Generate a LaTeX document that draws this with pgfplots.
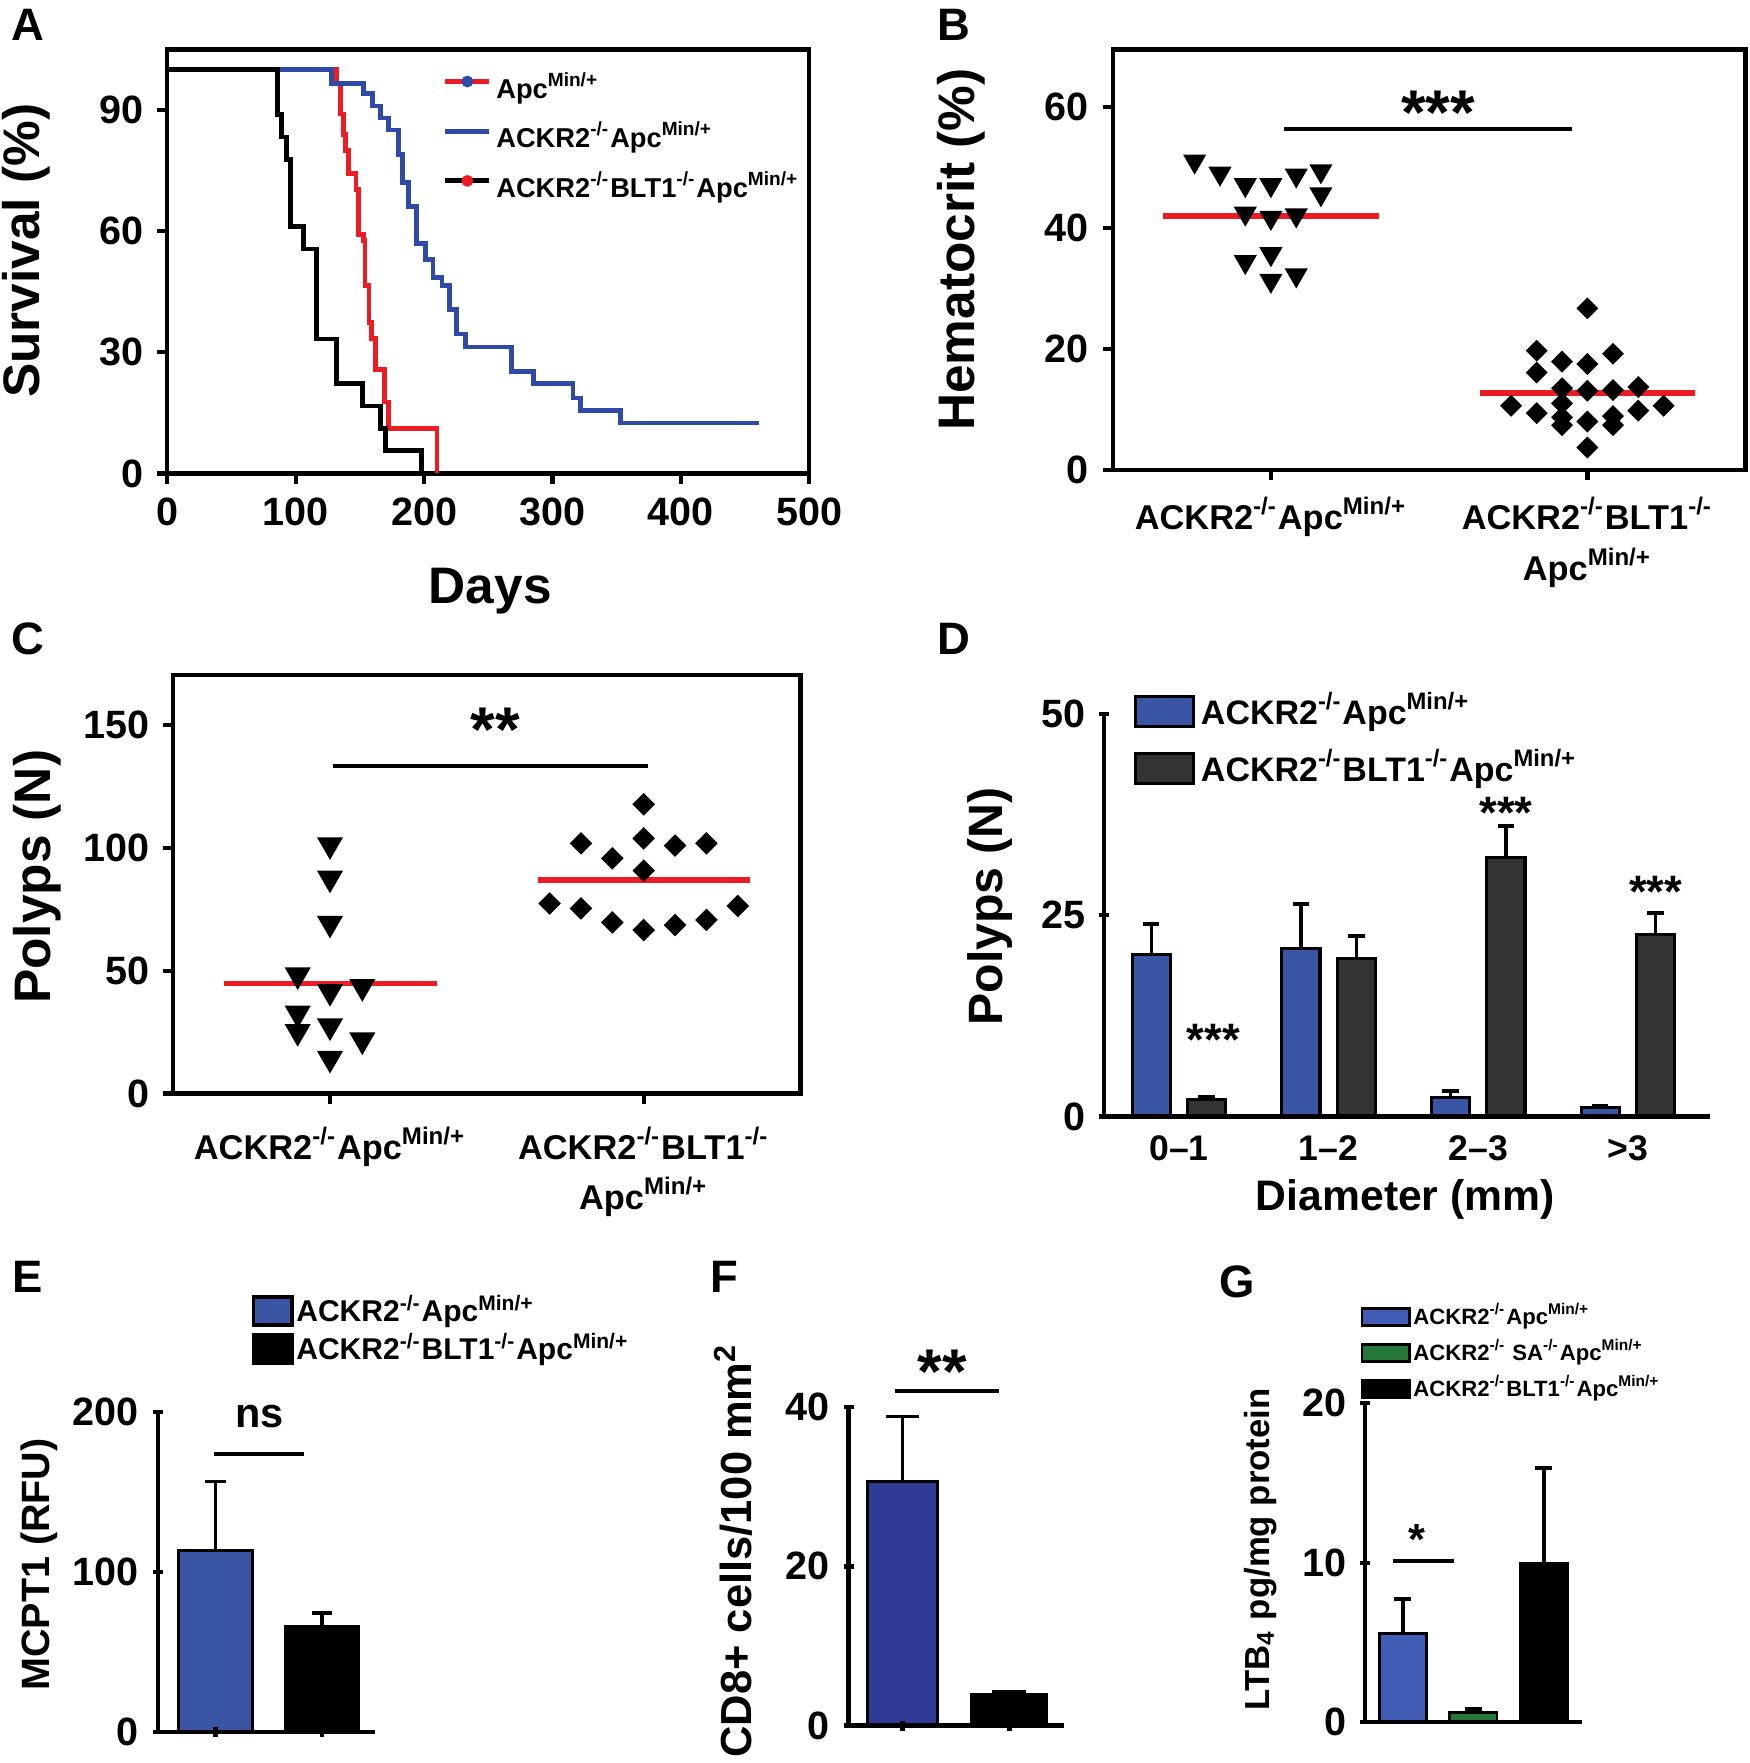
\documentclass[border=0pt]{standalone}
\usepackage{fontspec}
\setmainfont{Liberation Sans}
\usepackage{pgfplots}
\pgfplotsset{compat=1.18}

\definecolor{survred}{RGB}{237,28,36}
\definecolor{survblue}{RGB}{46,74,166}
\definecolor{meanred}{RGB}{236,28,36}
\definecolor{barblue}{RGB}{59,85,165}
\definecolor{bardark}{RGB}{51,51,51}
\definecolor{fblue}{RGB}{46,60,150}
\definecolor{gblue}{RGB}{64,92,180}
\definecolor{ggreen}{RGB}{38,120,58}

\newcommand{\ko}{\textsuperscript{-/-}}
\newcommand{\mn}{\textsuperscript{Min/+}}
\newcommand{\fs}[1]{\bfseries\fontsize{#1}{#1}\selectfont}

\pgfplotsset{
  gp/.style={
    scale only axis, anchor=south west, clip=false,
    axis line style={line width=1.1pt},
    every tick/.style={black, line width=1.1pt},
    tick align=outside, tick pos=left,
    major tick length=0.9mm,
    /pgf/number format/assume math mode=true,
    ticklabel style={font=\fs{10}},
    legend cell align=left,
  },
  gpopen/.style={gp, axis lines=left, axis on top,
    axis line style={-, line width=1.1pt},
    every outer x axis line/.append style={-},
    every outer y axis line/.append style={-}},
  errs/.style={error bars/.cd, y dir=plus, y explicit,
    error bar style={line width=0.9pt, black},
    error mark options={rotate=90, line width=0.9pt, black, mark size=#1}},
}

\begin{document}
\begin{tikzpicture}[font=\bfseries]
\useasboundingbox (0,0) rectangle (155.6mm,156.8mm);

% panel letters
\node[font=\fs{11.5}] at (2.5mm,154.6mm) {A};
\node[font=\fs{11.5}] at (84.8mm,154.6mm) {B};
\node[font=\fs{11.5}] at (2.5mm,100.0mm) {C};
\node[font=\fs{11.5}] at (84.8mm,100.0mm) {D};
\node[font=\fs{11.5}] at (2.5mm,43.2mm) {E};
\node[font=\fs{11.5}] at (64.4mm,43.2mm) {F};
\node[font=\fs{11.5}] at (110.0mm,42.8mm) {G};

% ---------- A: survival
\begin{axis}[gp, at={(14.88mm,114.69mm)}, width=57.1mm, height=37.72mm,
  xmin=0, xmax=500, ymin=0, ymax=105,
  xtick={0,100,...,500}, ytick={0,30,60,90},
  xlabel={Days}, ylabel={Survival (\%)},
  label style={font=\fs{13}},
  xlabel style={at={(axis description cs:0.503,-0.278)}, anchor=center},
  ylabel style={at={(axis description cs:-0.220,0.525)}, anchor=center},
  legend style={at={(axis description cs:0.428,0.958)}, anchor=north west,
    draw=none, fill=none, font=\fs{6.9}, inner sep=0pt, row sep=0.8mm,
    nodes={inner sep=0.4mm}},
]
\addplot[const plot, survred, line width=1.2pt,
  legend image code/.code={\draw[survred, line width=1.3pt] (0mm,0.6mm) -- (3.9mm,0.6mm);
    \fill[survblue] (1.95mm,0.6mm) circle (0.3mm);}]
  coordinates {(0,100) (132,96.5) (135,89) (137,84) (139,80) (141,74.3) (147,70.3)
  (149,59.2) (153,57.6) (154,46.5) (157,37.4) (159,33.4) (162,25.8) (169,17.7)
  (172,11.1) (210,0)};
\addlegendentry{Apc\mn}
\addplot[const plot, survblue, line width=1.2pt,
  legend image code/.code={\draw[survblue, line width=1.3pt] (0mm,0.6mm) -- (3.9mm,0.6mm);}]
  coordinates {(0,100) (128,96.6) (153,94) (160,91) (166,88) (172,85) (180,79)
  (183,72) (188,66) (194,57) (201,53) (207,48.5) (214,46.5) (220,40.5) (225,34.5)
  (232,31.3) (268,25.3) (285,22.2) (316,18.7) (322,15.6) (353,12.5) (461,12.5)};
\addlegendentry{ACKR2\ko{}Apc\mn}
\addplot[const plot, black, line width=1.2pt,
  legend image code/.code={\draw[black, line width=1.3pt] (0mm,0.6mm) -- (3.9mm,0.6mm);
    \fill[survred] (1.95mm,0.6mm) circle (0.3mm);}]
  coordinates {(0,100) (86,88.9) (89,83.3) (93,77.8) (96,61.1) (106,55.6) (116,33.3)
  (132,22.2) (152,16.7) (166,11.1) (170,5.6) (198,0)};
\addlegendentry{ACKR2\ko{}BLT1\ko{}Apc\mn}
\end{axis}

% ---------- B: hematocrit
\begin{axis}[gp, at={(98.96mm,115.0mm)}, width=56.29mm, height=37.41mm,
  xmin=0.5, xmax=2.5, ymin=0, ymax=69.5,
  xtick={1,2}, ytick={0,20,40,60},
  xticklabels={{ACKR2\ko{}Apc\mn},{ACKR2\ko{}BLT1\ko\\Apc\mn}},
  xticklabel style={font=\bfseries\fontsize{8.7}{12.8}\selectfont, align=center, anchor=north, yshift=-0.3mm},
  ylabel={Hematocrit (\%)},
  ylabel style={font=\fs{13}, at={(axis description cs:-0.239,0.524)}, anchor=center},
]
\addplot[only marks, mark=triangle*, mark size=1.05mm, mark options={rotate=180, fill=black, draw=black}]
  coordinates {(0.759,51.0) (0.839,49.0) (0.919,47.1) (1.0,47.1) (1.08,48.7)
  (1.158,49.4) (1.158,45.6) (0.919,42.4) (1.0,41.7) (1.08,42.1) (0.919,34.4)
  (1.0,35.7) (1.0,31.3) (1.08,32.2)};
\addplot[only marks, mark=square*, mark size=0.62mm, mark options={rotate=45, fill=black, draw=black}]
  coordinates {(2.0,26.7) (1.84,19.7) (2.081,19.2) (1.92,17.9) (2.0,17.5) (1.84,16.1)
  (1.92,13.5) (2.0,13.1) (2.081,13.2) (2.161,13.7) (1.759,10.6) (1.92,11.0)
  (2.241,10.6) (1.84,9.4) (2.161,9.8) (1.92,8.7) (1.92,7.4) (2.081,8.9) (2.0,8.0)
  (2.081,7.4) (2.0,3.7)};
\addplot[meanred, line width=1.4pt] coordinates {(0.66,42.0) (1.34,42.0)};
\addplot[meanred, line width=1.4pt] coordinates {(1.66,12.7) (2.34,12.7)};
\draw[line width=1pt] (axis cs:1.042,56.4) -- (axis cs:1.953,56.4);
\node[anchor=north, inner sep=0pt, font=\fs{16}] at (axis cs:1.528,62.8) {***};
\end{axis}

% ---------- C: polyps scatter
\begin{axis}[gp, at={(15.4mm,59.54mm)}, width=55.8mm, height=37.21mm,
  xmin=0.5, xmax=2.5, ymin=0, ymax=170.4,
  xtick={1,2}, ytick={0,50,100,150},
  xticklabels={{ACKR2\ko{}Apc\mn},{ACKR2\ko{}BLT1\ko\\Apc\mn}},
  xticklabel style={font=\bfseries\fontsize{8.7}{12.8}\selectfont, align=center, anchor=north, yshift=-0.8mm},
  ylabel={Polyps (N)},
  ylabel style={font=\fs{13}, at={(axis description cs:-0.217,0.518)}, anchor=center},
]
\addplot[only marks, mark=triangle*, mark size=1.2mm, mark options={rotate=180, fill=black, draw=black}]
  coordinates {(1,101.3) (1,87.7) (1,69.3) (0.897,48.3) (1,41.5) (1.103,43.5)
  (0.897,32.7) (0.897,25.2) (1,27.5) (1.103,21.8) (1,14.3)};
\addplot[only marks, mark=square*, mark size=0.64mm, mark options={rotate=45, fill=black, draw=black}]
  coordinates {(2,117.8) (2,103.9) (1.8,101.9) (2.1,101.0) (2.2,101.9) (1.9,95.8)
  (2,90.8) (1.7,77.4) (1.8,75.4) (2.3,76.4) (1.9,69.7) (2.2,70.7) (2,66.6) (2.1,68.6)};
\addplot[meanred, line width=1.4pt] coordinates {(0.662,44.8) (1.34,44.8)};
\addplot[meanred, line width=1.4pt] coordinates {(1.662,87.0) (2.34,87.0)};
\draw[line width=1pt] (axis cs:1.008,133.3) -- (axis cs:2.013,133.3);
\node[anchor=north, inner sep=0pt, font=\fs{16}] at (axis cs:1.527,157.5) {**};
\end{axis}

% ---------- D: polyps by diameter (bars placed at group centre -/+ 0.185)
\begin{axis}[gpopen, at={(98.2mm,57.5mm)}, width=53.9mm, height=35.8mm,
  xmin=0.5, xmax=4.55, ymin=0, ymax=50,
  ytick={0,25,50}, xtick={1,2,3,4}, xticklabels={0--1,1--2,2--3,>3},
  x tick style={draw=none}, xticklabel style={font=\fs{9}},
  xlabel={Diameter (mm)}, ylabel={Polyps (N)},
  xlabel style={font=\fs{10.8}, at={(axis description cs:0.497,-0.207)}, anchor=center},
  ylabel style={font=\fs{12.2}, at={(axis description cs:-0.189,0.522)}, anchor=center},
  legend style={at={(axis description cs:0.0475,1.07)}, anchor=north west,
    draw=none, fill=none, font=\fs{8.6}, inner sep=0pt, row sep=0.7mm,
    nodes={inner sep=0.5mm}},
]
\addplot[ybar, bar width=0.255, fill=barblue, draw=black, line width=0.8pt,
  legend image code/.code={\draw[fill=barblue, draw=black, line width=0.8pt] (0mm,-1.35mm) rectangle (5.2mm,1.35mm);},
  errs=0.73mm]
  coordinates {(0.815,20.1) +- (0,3.8) (1.815,20.9) +- (0,5.5) (2.815,2.4) +- (0,0.8) (3.815,1.07) +- (0,0.3)};
\addlegendentry{ACKR2\ko{}Apc\mn}
\addplot[ybar, bar width=0.255, fill=bardark, draw=black, line width=0.8pt,
  legend image code/.code={\draw[fill=bardark, draw=black, line width=0.8pt] (0mm,-1.35mm) rectangle (5.2mm,1.35mm);},
  errs=0.73mm]
  coordinates {(1.185,2.1) +- (0,0.4) (2.185,19.6) +- (0,2.8) (3.185,32.2) +- (0,3.9) (4.185,22.6) +- (0,2.7)};
\addlegendentry{ACKR2\ko{}BLT1\ko{}Apc\mn}
\node[anchor=north, inner sep=0pt, font=\fs{11.5}] at (axis cs:1.23,11.6) {***};
\node[anchor=north, inner sep=0pt, font=\fs{11.5}] at (axis cs:3.185,39.8) {***};
\node[anchor=north, inner sep=0pt, font=\fs{11.5}] at (axis cs:4.185,30.0) {***};
\end{axis}

% ---------- E: MCPT1
\begin{axis}[gpopen, at={(14.04mm,2.74mm)}, width=19.29mm, height=28.46mm,
  xmin=0.458, xmax=2.494, ymin=0, ymax=200,
  ytick={0,100,200}, xtick={1,2}, xticklabels={},
  ylabel={MCPT1 (RFU)},
  ylabel style={font=\fs{10}, at={(axis description cs:-0.548,0.524)}, anchor=center},
  legend style={at={(axis description cs:0.431,1.378)}, anchor=north west,
    draw=none, fill=none, font=\fs{7.6}, inner sep=0pt, row sep=0pt,
    nodes={inner sep=0.25mm}},
]
\addplot[ybar, bar width=0.69, fill=barblue, draw=black, line width=0.8pt,
  legend image code/.code={\draw[fill=barblue, draw=black, line width=0.8pt] (0mm,-1.25mm) rectangle (3.4mm,1.25mm);},
  errs=0.9mm]
  coordinates {(1,113.5) +- (0,43.2)};
\addlegendentry{ACKR2\ko{}Apc\mn}
\addplot[ybar, bar width=0.69, fill=black, draw=black, line width=0.8pt,
  legend image code/.code={\draw[fill=black, draw=black, line width=0.8pt] (0mm,-1.25mm) rectangle (3.4mm,1.25mm);},
  errs=0.9mm]
  coordinates {(2,66.3) +- (0,8.1)};
\addlegendentry{ACKR2\ko{}BLT1\ko{}Apc\mn}
\draw[line width=1pt] (axis cs:0.984,174) -- (axis cs:1.83,174);
\node[anchor=north, inner sep=0pt, font=\fs{10.5}] at (axis cs:1.41,205) {ns};
\end{axis}

% ---------- F: CD8+ cells
\begin{axis}[gpopen, at={(75.47mm,3.33mm)}, width=19.13mm, height=28.32mm,
  xmin=0.494, xmax=2.509, ymin=0, ymax=40,
  ytick={0,20,40}, xtick={1,2}, xticklabels={},
  ylabel={CD8+ cells/100 mm\textsuperscript{2}},
  ylabel style={font=\fs{11}, at={(axis description cs:-0.537,0.550)}, anchor=center},
]
\addplot[ybar, bar width=0.66, fill=fblue, draw=black, line width=0.8pt, errs=1.5mm]
  coordinates {(1,30.7) +- (0,8.1)};
\addplot[ybar, bar width=0.70, fill=black, draw=black, line width=0.8pt, errs=1.5mm]
  coordinates {(2,3.85) +- (0,0.45)};
\draw[line width=1pt] (axis cs:0.93,42.0) -- (axis cs:1.9,42.0);
\node[anchor=north, inner sep=0pt, font=\fs{16}] at (axis cs:1.37,47.3) {**};
\end{axis}

% ---------- G: LTB4
\begin{axis}[gpopen, at={(121.41mm,3.62mm)}, width=19.29mm, height=28.38mm,
  xmin=0.465, xmax=3.54, ymin=0, ymax=20,
  ytick={0,10,20}, xtick=\empty,
  ylabel={LTB\textsubscript{4} pg/mg protein},
  ylabel style={font=\fs{8.8}, at={(axis description cs:-0.483,0.542)}, anchor=center},
  legend style={at={(axis description cs:-0.024,1.324)}, anchor=north west,
    draw=none, fill=none, font=\fs{5.6}, inner sep=0pt, row sep=0.3mm,
    nodes={inner sep=0.25mm}},
]
\addplot[ybar, bar width=0.667, fill=gblue, draw=black, line width=0.7pt,
  legend image code/.code={\draw[fill=gblue, draw=black, line width=0.7pt] (0mm,-0.77mm) rectangle (4.2mm,0.77mm);},
  errs=0.75mm]
  coordinates {(1,5.58) +- (0,2.15)};
\addlegendentry{ACKR2\ko{}Apc\mn}
\addplot[ybar, bar width=0.667, fill=ggreen, draw=black, line width=0.7pt,
  legend image code/.code={\draw[fill=ggreen, draw=black, line width=0.7pt] (0mm,-0.77mm) rectangle (4.2mm,0.77mm);},
  errs=0.75mm]
  coordinates {(2,0.63) +- (0,0.21)};
\addlegendentry{ACKR2\ko{} SA\ko{}Apc\mn}
\addplot[ybar, bar width=0.667, fill=black, draw=black, line width=0.7pt,
  legend image code/.code={\draw[fill=black, draw=black, line width=0.7pt] (0mm,-0.77mm) rectangle (4.2mm,0.77mm);},
  errs=0.75mm]
  coordinates {(3,9.97) +- (0,5.98)};
\addlegendentry{ACKR2\ko{}BLT1\ko{}Apc\mn}
\draw[line width=1pt] (axis cs:0.86,10.08) -- (axis cs:1.73,10.08);
\node[anchor=north, inner sep=0pt, font=\fs{11}] at (axis cs:1.207,12.45) {*};
\end{axis}

\end{tikzpicture}
\end{document}
